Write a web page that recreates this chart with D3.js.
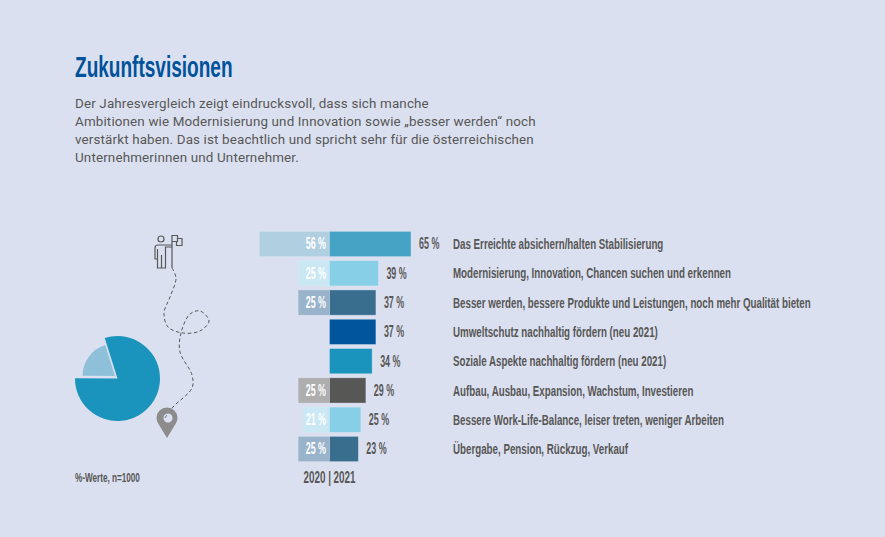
<!DOCTYPE html>
<html lang="de">
<head>
<meta charset="utf-8">
<script src="https://cdnjs.cloudflare.com/ajax/libs/d3/7.8.5/d3.min.js"></script>
<style>
  html, body { margin: 0; padding: 0; background: #dbe0f0; }
  svg { display: block; }
  text { font-family: "Liberation Sans", sans-serif; }
  .intro { font-family: Roboto, sans-serif; font-size: 13.4px; letter-spacing: 0.15px; fill: #575756; }
  .cond { font-weight: 700; fill: #575756; }
</style>
</head>
<body>
<div id="chart"></div>
<script>
// Daten
const categories = [
  'Das Erreichte absichern/halten Stabilisierung',
  'Modernisierung, Innovation, Chancen suchen und erkennen',
  'Besser werden, bessere Produkte und Leistungen, noch mehr Qualität bieten',
  'Umweltschutz nachhaltig fördern (neu 2021)',
  'Soziale Aspekte nachhaltig fördern (neu 2021)',
  'Aufbau, Ausbau, Expansion, Wachstum, Investieren',
  'Bessere Work-Life-Balance, leiser treten, weniger Arbeiten',
  'Übergabe, Pension, Rückzug, Verkauf'
];
const values2020 = [56, 25, 25, null, null, 25, 21, 25];
const values2021 = [65, 39, 37, 37, 34, 29, 25, 23];
const colors2020 = ['#b0cfe0', '#c9e8f3', '#99b3cb', null, null, '#aeaeae', '#c9e8f3', '#99b3cb'];
const colors2021 = ['#45a3c5', '#87cfe6', '#3a6e8f', '#00559b', '#1a94bd', '#575756', '#87cfe6', '#3a6e8f'];
const pieValues = [80, 20];
const introLines = [
  'Der Jahresvergleich zeigt eindrucksvoll, dass sich manche',
  'Ambitionen wie Modernisierung und Innovation sowie „besser werden“ noch',
  'verstärkt haben. Das ist beachtlich und spricht sehr für die österreichischen',
  'Unternehmerinnen und Unternehmer.'
];
const trailPoints = [
  [172, 268], [176, 278], [170, 297], [164, 313], [168, 327], [183, 333], [200, 331], [209, 321],
  [200, 311], [190, 314], [181, 333], [180, 352], [192, 375], [192, 388], [173, 407], [165, 418]
];

const width = 885;
const height = 537;
const centerX = 329.5;
const labelStretch = 0.63; // Schrift horizontal stauchen
const valueStretch = 0.54;

const svg = d3.select('#chart').append('svg').attr('width', width).attr('height', height);

// Titel und Einleitung
svg.append('text')
  .attr('transform', 'translate(75,77) scale(0.635,1)')
  .style('font-size', '30px').style('font-weight', 700).style('fill', '#00529b')
  .text('Zukunftsvisionen');
svg.selectAll('.intro').data(introLines).join('text')
  .attr('class', 'intro').attr('x', 75).attr('y', (d, i) => 108 + i * 18).text(d => d);

// Skalen
const scaleY = d3.scaleBand().domain(categories).range([229.35, 463.65]).paddingInner(0.14).paddingOuter(0.07);
const scaleX = d3.scaleLinear().domain([0, 65]).range([0, 81.5]);

const rows = svg.selectAll('.row').data(categories).join('g').attr('class', 'row')
  .attr('transform', d => `translate(0,${scaleY(d)})`);

const bandH = scaleY.bandwidth();
const place = (sel, x, size, stretch) => sel
  .attr('transform', `translate(${x},${bandH / 2 + size * 0.33}) scale(${stretch},1)`)
  .style('font-size', `${size}px`);

// Balken 2020
rows.filter((d, i) => values2020[i] !== null).append('rect')
  .attr('x', d => centerX - scaleX(values2020[categories.indexOf(d)]))
  .attr('width', d => scaleX(values2020[categories.indexOf(d)]))
  .attr('height', bandH)
  .attr('fill', d => colors2020[categories.indexOf(d)])
  .attr('stroke', '#e3e9f5').attr('stroke-opacity', 0.45).attr('stroke-width', 0.7);
// Balken 2021
rows.append('rect')
  .attr('x', centerX)
  .attr('width', d => scaleX(values2021[categories.indexOf(d)]))
  .attr('height', bandH)
  .attr('fill', d => colors2021[categories.indexOf(d)])
  .attr('stroke', '#e3e9f5').attr('stroke-opacity', 0.45).attr('stroke-width', 0.7);

// Werte
rows.filter((d, i) => values2020[i] !== null).append('text')
  .attr('class', 'cond').style('fill', '#fff').attr('text-anchor', 'end')
  .each(function () { place(d3.select(this), 326, 16.5, valueStretch); })
  .text(d => `${values2020[categories.indexOf(d)]} %`);
rows.append('text').attr('class', 'cond')
  .each(function (d) { place(d3.select(this), centerX + scaleX(values2021[categories.indexOf(d)]) + 8, 16.5, valueStretch); })
  .text(d => `${values2021[categories.indexOf(d)]} %`);
rows.append('text').attr('class', 'cond')
  .each(function () { place(d3.select(this), 453, 15.5, labelStretch); })
  .text(d => d);

// Fusszeile
svg.append('text').attr('class', 'cond').attr('text-anchor', 'middle')
  .attr('transform', `translate(${centerX},483) scale(0.615,1)`).style('font-size', '16px')
  .text('2020 | 2021');
svg.append('text').attr('class', 'cond')
  .attr('transform', 'translate(75,482) scale(0.628,1)').style('font-size', '13px')
  .text('%-Werte, n=1000');

// Kreisdiagramm
const startA = -17.5 * Math.PI / 180;
const pie = d3.pie().sort(null).startAngle(startA).endAngle(startA + 2 * Math.PI);
const arcs = pie(pieValues);
svg.append('path').attr('transform', 'translate(117.5,378.5)')
  .attr('d', d3.arc().innerRadius(0).outerRadius(42.5)(arcs[0])).attr('fill', '#1a94bd');
svg.append('path').attr('transform', 'translate(115,376)')
  .attr('d', d3.arc().innerRadius(0).outerRadius(32.5)(arcs[1])).attr('fill', '#8fc0d9');

// Weg
svg.append('path').attr('d', d3.line().curve(d3.curveCatmullRom)(trailPoints))
  .attr('fill', 'none').attr('stroke', '#575756').attr('stroke-width', 1).attr('stroke-dasharray', '3.5 2.5');

// Person mit Fahne
const icon = svg.append('g').attr('fill', 'none').attr('stroke', '#575756').attr('stroke-width', 1.2);
icon.append('circle').attr('cx', 161).attr('cy', 239).attr('r', 3);
icon.append('path').attr('d', 'M172 245H158Q155 245 155 248V259H157.5V249M157.5 249V268H165.5V247H172M161.5 268V255');
icon.append('path').attr('d', 'M172 268V235.5H177.5V241.5H172M177.5 238.5H182V245.5H176.5V241.5');

// Ziel-Marker
svg.append('path').attr('fill', '#8c8c8c').attr('fill-rule', 'evenodd')
  .attr('d', 'M167 438L158.5 424Q156.5 421 156.5 418A10.5 10.5 0 0 1 177.5 418Q177.5 421 175.5 424Z M168 413.5a4.5 4.5 0 1 0 .01 0Z');
</script>
</body>
</html>
